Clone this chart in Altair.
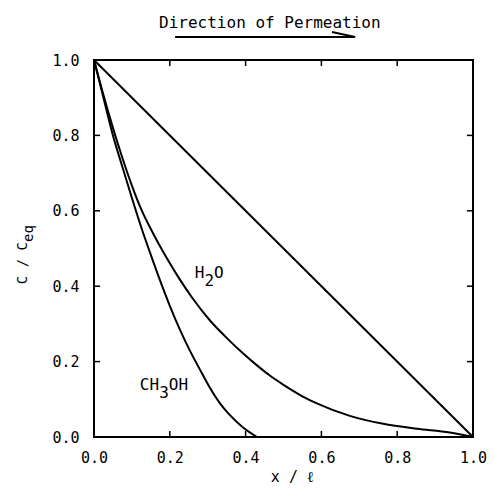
import altair as alt
import pandas as pd

FONT = "DejaVu Sans Mono"

# ---- data ----
lin_x = [0.0, 1.0]
lin_y = [1.0, 0.0]

h2o_x = [0.0, 0.02, 0.05, 0.075, 0.1, 0.125, 0.156, 0.19, 0.225, 0.26, 0.306,
         0.35, 0.393, 0.43, 0.464, 0.499, 0.55, 0.588, 0.675, 0.763, 0.852, 0.939, 1.0]
h2o_y = [1.0, 0.925, 0.82, 0.74, 0.667, 0.603, 0.54, 0.478, 0.42, 0.368, 0.309,
         0.263, 0.222, 0.19, 0.163, 0.139, 0.108, 0.089, 0.056, 0.035, 0.022, 0.012, 0.0]

meoh_x = [0.0, 0.02, 0.05, 0.075, 0.1, 0.127, 0.15, 0.174, 0.2, 0.227, 0.253,
          0.28, 0.305, 0.332, 0.355, 0.377, 0.395, 0.41, 0.43]
meoh_y = [1.0, 0.92, 0.80, 0.716, 0.634, 0.549, 0.483, 0.416, 0.348, 0.284, 0.229,
          0.178, 0.132, 0.09, 0.062, 0.04, 0.024, 0.013, 0.0]

tick_values = [0.0, 0.2, 0.4, 0.6, 0.8, 1.0]
inner_ticks = [0.2, 0.4, 0.6, 0.8]
tick_len = 0.016

arrow_x = [0.214, 0.689]
arrow_y = [1.061, 1.061]
head_x = [0.628, 0.689]
head_y = [1.074, 1.061]

title_text = ["Direction of Permeation"]
title_x = [0.464]
title_y = [1.085]

label_text = ["H O", "CH OH"]
label_x = [0.266, 0.121]
label_y = [0.434, 0.138]

# ---- tables ----
rows = []
for name, xs_, ys_ in [("linear", lin_x, lin_y), ("H2O", h2o_x, h2o_y), ("CH3OH", meoh_x, meoh_y)]:
    for i, (a, b) in enumerate(zip(xs_, ys_)):
        rows.append({"series": name, "idx": i, "x": a, "y": b})
curves = pd.DataFrame(rows)

trows = []
for v in inner_ticks:
    trows.append({"x": v, "x2": v, "y": 0.0, "y2": tick_len})
    trows.append({"x": v, "x2": v, "y": 1.0, "y2": 1.0 - tick_len})
    trows.append({"x": 0.0, "x2": tick_len, "y": v, "y2": v})
    trows.append({"x": 1.0, "x2": 1.0 - tick_len, "y": v, "y2": v})
ticks = pd.DataFrame(trows)

frame = pd.DataFrame({"x": [0.0], "x2": [1.0], "y": [0.0], "y2": [1.0]})

arrow = pd.DataFrame(
    [{"part": "shaft", "idx": i, "x": a, "y": b} for i, (a, b) in enumerate(zip(arrow_x, arrow_y))]
    + [{"part": "head", "idx": i, "x": a, "y": b} for i, (a, b) in enumerate(zip(head_x, head_y))]
)

labels = pd.DataFrame({"t": label_text, "x": label_x, "y": label_y})
title_df = pd.DataFrame({"t": title_text, "x": title_x, "y": title_y})

xsc = alt.Scale(domain=[0, 1], nice=False, zero=False)
ysc = alt.Scale(domain=[0, 1], nice=False, zero=False)

x_axis = alt.Axis(values=tick_values, format=".1f", title="x / ℓ", grid=False,
                  domain=False, ticks=False, labelPadding=13, labelFlush=False,
                  labelFont=FONT, labelFontSize=15, labelColor="black", titleFont=FONT,
                  titleFontSize=15, titleFontWeight="normal", titleColor="black",
                  titleX=198, titleY=44, titleBaseline="alphabetic")
y_axis = alt.Axis(values=tick_values, format=".1f", title=None, grid=False,
                  domain=False, ticks=False, labelPadding=15, labelFlush=False,
                  labelFont=FONT, labelFontSize=15, labelColor="black")


def X():
    return alt.X("x:Q", scale=xsc, axis=x_axis)


def Y():
    return alt.Y("y:Q", scale=ysc, axis=y_axis)


frame_mark = alt.Chart(frame).mark_rect(
    filled=False, stroke="black", strokeWidth=2, fillOpacity=0
).encode(x=X(), x2="x2:Q", y=Y(), y2="y2:Q")

lines = alt.Chart(curves).mark_line(color="black", strokeWidth=2, interpolate="monotone").encode(
    x=X(), y=Y(), detail="series:N", order="idx:Q",
)

tick_marks = alt.Chart(ticks).mark_rule(color="black", strokeWidth=1.5).encode(
    x=X(), x2="x2:Q", y=Y(), y2="y2:Q",
)

arrow_marks = alt.Chart(arrow).mark_line(color="black", strokeWidth=2, clip=False).encode(
    x=X(), y=Y(), detail="part:N", order="idx:Q",
)

title_mark = alt.Chart(title_df).mark_text(
    align="center", baseline="alphabetic", font=FONT, fontSize=16, color="black", clip=False
).encode(x=X(), y=Y(), text="t:N")

main_labels = alt.Chart(labels).mark_text(
    align="left", baseline="middle", font=FONT, fontSize=16, color="black"
).encode(x=X(), y=Y(), text="t:N")

sub2 = alt.Chart(labels.iloc[[0]].assign(s="2")).mark_text(
    align="left", baseline="middle", font=FONT, fontSize=16, color="black", dx=9.6, dy=8
).encode(x=X(), y=Y(), text="s:N")

sub3 = alt.Chart(labels.iloc[[1]].assign(s="3")).mark_text(
    align="left", baseline="middle", font=FONT, fontSize=16, color="black", dx=19.3, dy=8
).encode(x=X(), y=Y(), text="s:N")

ytitle_main = alt.Chart(pd.DataFrame({"t": ["C / C"]})).mark_text(
    angle=270, align="right", baseline="alphabetic", font=FONT, fontSize=14, color="black"
).encode(x=alt.value(-67), y=alt.value(182), text="t:N")

ytitle_sub = alt.Chart(pd.DataFrame({"t": ["eq"]})).mark_text(
    angle=270, align="left", baseline="alphabetic", font=FONT, fontSize=14, color="black"
).encode(x=alt.value(-61), y=alt.value(182), text="t:N")

chart = alt.layer(
    frame_mark, lines, tick_marks, arrow_marks, title_mark, main_labels, sub2, sub3,
    ytitle_main, ytitle_sub
).properties(
    width=379,
    height=377,
    autosize=alt.AutoSizeParams(type="none"),
    padding={"left": 94, "top": 60, "right": 22, "bottom": 52},
).configure_view(
    stroke=None
).configure(background="white")

chart.save("out.html", embed_options={"renderer": "svg", "actions": False})
